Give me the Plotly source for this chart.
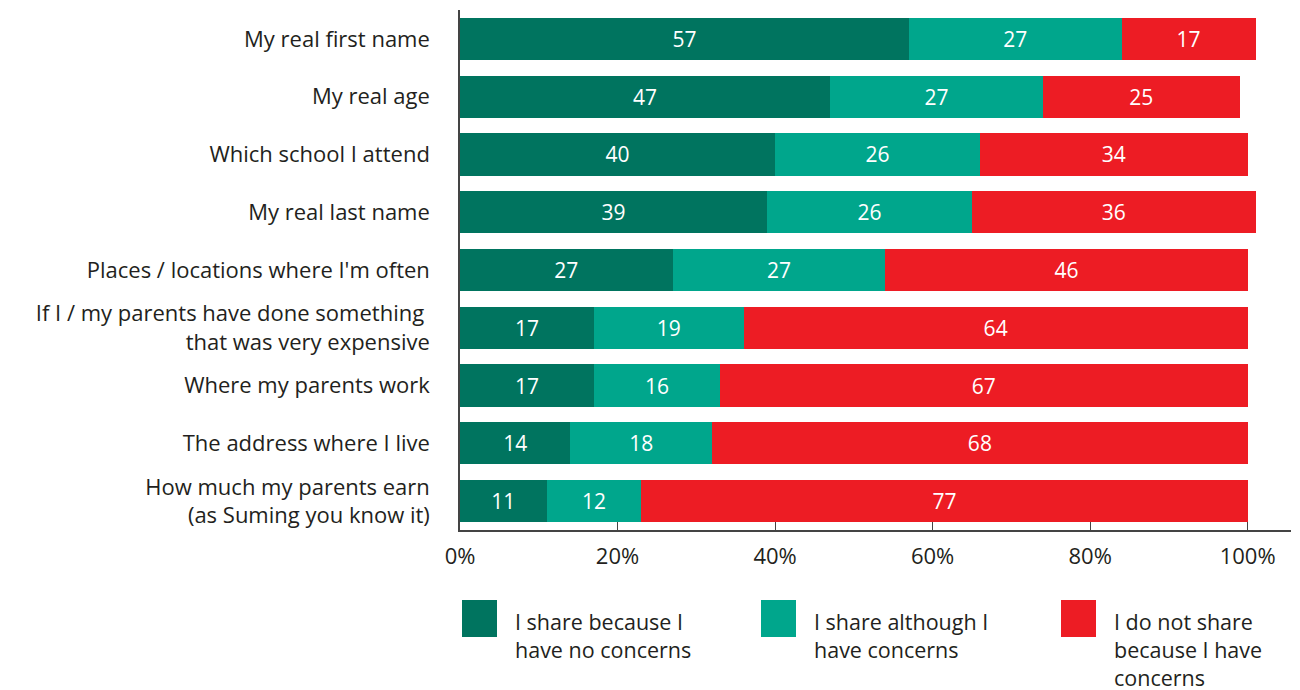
import plotly.graph_objects as go

categories = [
    "My real first name",
    "My real age",
    "Which school I attend",
    "My real last name",
    "Places / locations where I'm often",
    "If I / my parents have done something <br>that was very expensive",
    "Where my parents work",
    "The address where I live",
    "How much my parents earn<br>(as Suming you know it)",
]
share_no_concerns = [57, 47, 40, 39, 27, 17, 17, 14, 11]
share_with_concerns = [27, 27, 26, 26, 27, 19, 16, 18, 12]
not_share = [17, 25, 34, 36, 46, 64, 67, 68, 77]

series_names = [
    "I share because I<br>have no concerns",
    "I share although I<br>have concerns",
    "I do not share<br>because I have<br>concerns",
]
colors = ["#00745f", "#00a68c", "#ed1c24"]
tick_vals = [0, 20, 40, 60, 80, 100]
tick_text = ["0%", "20%", "40%", "60%", "80%", "100%"]

FONT = "Open Sans"
TEXT_COLOR = "#231f20"

L, R, T, B = 452, 17, 2, 168
W, H = 1300, 690
PW = W - L - R
PH = H - T - B

fig = go.Figure()
for name, vals, col in zip(series_names,
                           [share_no_concerns, share_with_concerns, not_share],
                           colors):
    fig.add_trace(go.Bar(
        y=categories, x=vals, orientation="h", name=name,
        marker=dict(color=col, line=dict(width=0)),
        text=[str(v) for v in vals], textposition="inside",
        insidetextanchor="middle",
        textfont=dict(color="white", size=21, family=FONT),
        showlegend=False,
    ))

fig.update_layout(
    barmode="stack",
    bargap=0.27,
    width=W, height=H,
    margin=dict(l=L, r=R, t=T, b=B),
    paper_bgcolor="white", plot_bgcolor="white",
    font=dict(family=FONT, size=22, color=TEXT_COLOR),
    uniformtext=dict(minsize=21, mode="show"),
)
fig.update_yaxes(
    autorange="reversed",
    showgrid=False, zeroline=False,
    showline=True, linecolor="#444", linewidth=1.5,
    ticks="", ticklabelstandoff=24,
    tickfont=dict(size=22, color=TEXT_COLOR, family=FONT),
)
fig.update_xaxes(
    range=[0, 105.5],
    showgrid=False, zeroline=False,
    showline=True, linecolor="#444", linewidth=1.5,
    ticks="inside", ticklen=8, tickcolor="#444", tickwidth=1,
    tickvals=tick_vals, ticktext=tick_text,
    tickfont=dict(size=22, color=TEXT_COLOR, family=FONT),
    ticklabelstandoff=6,
)

# manual legend with large square swatches (figure-pixel positions)
legend_x = [454, 753, 1053]
for lx, name, col in zip(legend_x, series_names, colors):
    fig.add_shape(type="rect", xref="paper", yref="paper",
                  x0=(lx - L) / PW, x1=(lx + 35 - L) / PW,
                  y0=(H - B - 629) / PH, y1=(H - B - 592) / PH,
                  fillcolor=col, line=dict(width=0))
    fig.add_annotation(xref="paper", yref="paper",
                       x=(lx + 51 - L) / PW, y=(H - B - 597) / PH,
                       xanchor="left", yanchor="top", align="left",
                       text=name, showarrow=False,
                       font=dict(size=21.5, color=TEXT_COLOR, family=FONT))

fig.write_html("out.html")
